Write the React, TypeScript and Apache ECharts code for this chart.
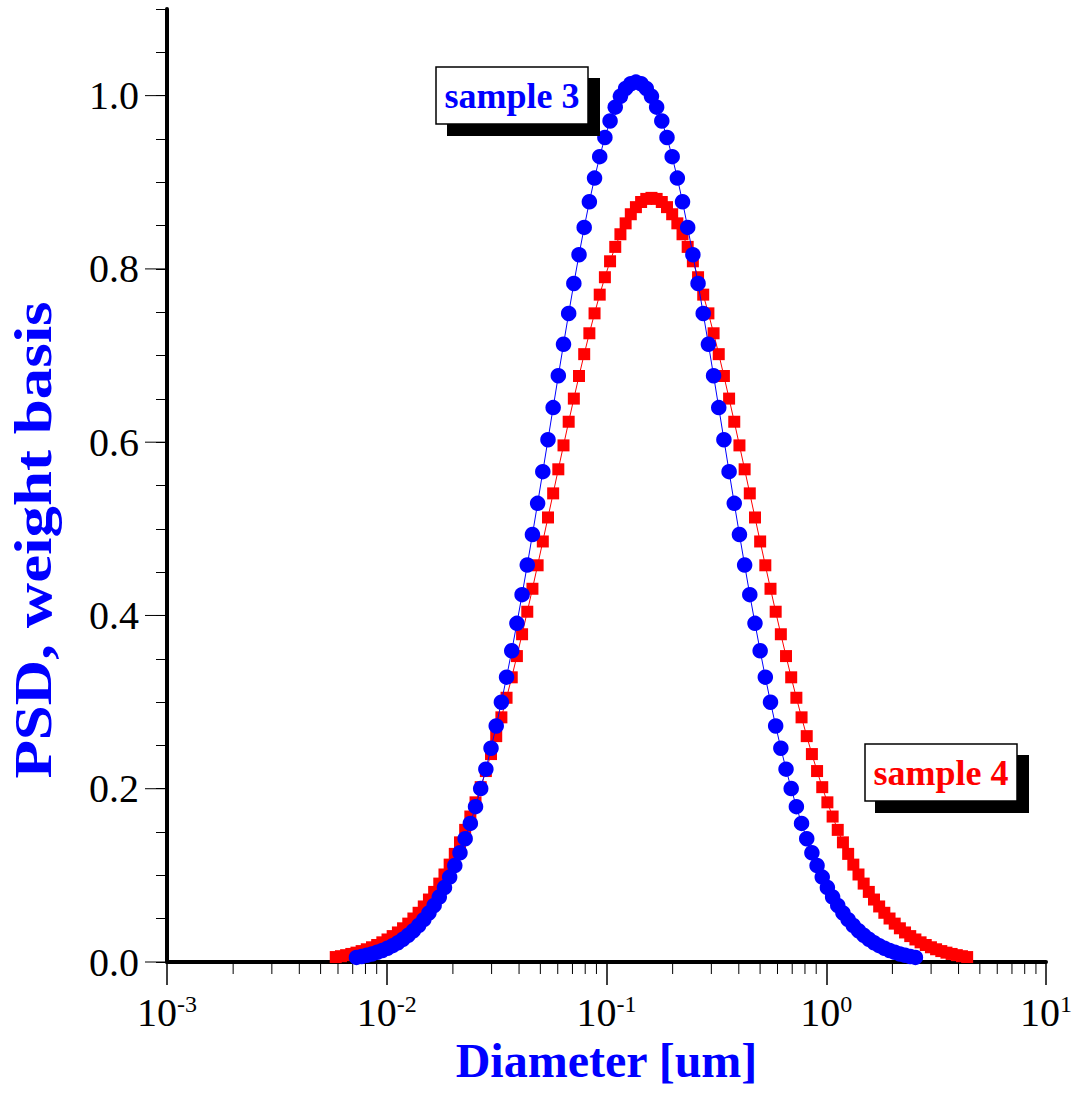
import React, { useEffect, useRef } from "react";
import * as echarts from "echarts";

// Diameter grid [um] (log-spaced)
const diam = [
  0.005861, 0.006188, 0.006533, 0.006897, 0.007281, 0.007687, 0.008115, 0.008567, 0.009044, 0.009548,
  0.01008, 0.01064, 0.01124, 0.01186, 0.01253, 0.01322, 0.01396, 0.01474, 0.01556, 0.01643,
  0.01734, 0.01831, 0.01933, 0.0204, 0.02154, 0.02274, 0.02401, 0.02535, 0.02676, 0.02825,
  0.02982, 0.03149, 0.03324, 0.03509, 0.03705, 0.03911, 0.04129, 0.0436, 0.04602, 0.04859,
  0.0513, 0.05416, 0.05718, 0.06036, 0.06373, 0.06728, 0.07102, 0.07498, 0.07916, 0.08357,
  0.08823, 0.09314, 0.09833, 0.1038, 0.1096, 0.1157, 0.1222, 0.129, 0.1361, 0.1437,
  0.1517, 0.1602, 0.1691, 0.1785, 0.1885, 0.199, 0.2101, 0.2218, 0.2341, 0.2472,
  0.261, 0.2755, 0.2909, 0.3071, 0.3242, 0.3422, 0.3613, 0.3814, 0.4027, 0.4252,
  0.4488, 0.4739, 0.5003, 0.5281, 0.5576, 0.5886, 0.6214, 0.6561, 0.6926, 0.7312,
  0.772, 0.815, 0.8604, 0.9083, 0.9589, 1.012, 1.069, 1.128, 1.191, 1.258,
  1.328, 1.402, 1.48, 1.562, 1.649, 1.741, 1.838, 1.941, 2.049, 2.163,
  2.283, 2.411, 2.545, 2.687, 2.837, 2.995, 3.161, 3.338, 3.524, 3.72,
  3.927, 4.146, 4.377,
];

// sample 3 starts at the 5th diameter of the grid
const sample3Diam = diam.slice(4, 113);
const sample3 = [
  0.0053, 0.0064, 0.0077, 0.0093, 0.0112, 0.0133, 0.0159, 0.0189, 0.0223, 0.0263,
  0.0309, 0.0361, 0.0421, 0.0489, 0.0566, 0.0653, 0.075, 0.0859, 0.098, 0.1113,
  0.1261, 0.1423, 0.16, 0.1793, 0.2002, 0.2226, 0.2468, 0.2725, 0.2999, 0.3288,
  0.3592, 0.3909, 0.424, 0.4582, 0.4934, 0.5294, 0.566, 0.6029, 0.6399, 0.6767,
  0.713, 0.7486, 0.7832, 0.8164, 0.8479, 0.8775, 0.9048, 0.9296, 0.9517, 0.9708,
  0.9867, 0.9992, 1.0083, 1.0138, 1.0156, 1.0138, 1.0083, 0.9992, 0.9867, 0.9708,
  0.9517, 0.9296, 0.9048, 0.8775, 0.8479, 0.8164, 0.7832, 0.7486, 0.713, 0.6767,
  0.6399, 0.6029, 0.566, 0.5294, 0.4934, 0.4582, 0.424, 0.3909, 0.3592, 0.3288,
  0.2999, 0.2725, 0.2468, 0.2226, 0.2002, 0.1793, 0.16, 0.1423, 0.1261, 0.1113,
  0.098, 0.0859, 0.075, 0.0653, 0.0566, 0.0489, 0.0421, 0.0361, 0.0309, 0.0263,
  0.0223, 0.0189, 0.0159, 0.0133, 0.0112, 0.0093, 0.0077, 0.0064, 0.0053,
];

const sample4 = [
  0.0057, 0.0067, 0.0079, 0.0093, 0.0108, 0.0126, 0.0147, 0.017, 0.0196, 0.0227,
  0.026, 0.0299, 0.0341, 0.0389, 0.0443, 0.0502, 0.0568, 0.0641, 0.0721, 0.0809,
  0.0905, 0.101, 0.1124, 0.1248, 0.1381, 0.1525, 0.1679, 0.1843, 0.2018, 0.2204,
  0.24, 0.2607, 0.2824, 0.305, 0.3286, 0.3531, 0.3783, 0.4043, 0.4308, 0.4579,
  0.4854, 0.5131, 0.5409, 0.5687, 0.5963, 0.6236, 0.6503, 0.6764, 0.7016, 0.7257,
  0.7487, 0.7703, 0.7904, 0.8088, 0.8254, 0.84, 0.8526, 0.8631, 0.8713, 0.8772,
  0.8808, 0.882, 0.8808, 0.8772, 0.8713, 0.8631, 0.8526, 0.84, 0.8254, 0.8088,
  0.7904, 0.7703, 0.7487, 0.7257, 0.7016, 0.6764, 0.6503, 0.6236, 0.5963, 0.5687,
  0.5409, 0.5131, 0.4854, 0.4579, 0.4308, 0.4043, 0.3783, 0.3531, 0.3286, 0.305,
  0.2824, 0.2607, 0.24, 0.2204, 0.2018, 0.1843, 0.1679, 0.1525, 0.1381, 0.1248,
  0.1124, 0.101, 0.0905, 0.0809, 0.0721, 0.0641, 0.0568, 0.0502, 0.0443, 0.0389,
  0.0341, 0.0299, 0.026, 0.0227, 0.0196, 0.017, 0.0147, 0.0126, 0.0108, 0.0093,
  0.0079, 0.0067, 0.0057,
];

const xMinorTicks = [
  0.002, 0.003, 0.004, 0.005, 0.006, 0.007, 0.008, 0.009,
  0.02, 0.03, 0.04, 0.05, 0.06, 0.07, 0.08, 0.09,
  0.2, 0.3, 0.4, 0.5, 0.6, 0.7, 0.8, 0.9,
  2, 3, 4, 5, 6, 7, 8, 9,
];
const yMajorTicks = [0, 0.2, 0.4, 0.6, 0.8, 1.0];

const SERIF = "'Liberation Serif', 'Times New Roman', serif";

export default function App() {
  const ref = useRef<HTMLDivElement>(null);
  useEffect(() => {
    if (!ref.current) return;
    const chart = echarts.init(ref.current, undefined, { renderer: "svg" });
    const option: any = {
      animation: false,
      backgroundColor: "#ffffff",
      grid: { left: 167, right: 28, top: 9, bottom: 135 },
      xAxis: {
        type: "log",
        logBase: 10,
        min: 0.001,
        max: 10,
        name: "Diameter [um]",
        nameLocation: "middle",
        nameGap: 72,
        nameTextStyle: { color: "#0000ff", fontFamily: SERIF, fontWeight: "bold", fontSize: 48 },
        axisLine: { onZero: false, lineStyle: { color: "#000", width: 4 } },
        axisTick: { length: 23, lineStyle: { color: "#000", width: 1.5 } },
        splitLine: { show: false },
        axisLabel: {
          margin: 30,
          formatter: (v: number) => {
            const e = Math.round(Math.log10(v));
            return `{b|10}{s|${e}}`;
          },
          rich: {
            b: { fontSize: 40, fontFamily: SERIF, color: "#000" },
            s: { fontSize: 24, fontFamily: SERIF, color: "#000", verticalAlign: "top" },
          },
        },
      },
      yAxis: {
        type: "value",
        min: 0,
        max: 1.1,
        interval: 0.05,
        axisLine: { onZero: false, lineStyle: { color: "#000", width: 4 } },
        axisTick: { length: 11, lineStyle: { color: "#000", width: 1 } },
        splitLine: { show: false },
        axisLabel: {
          margin: 28,
          fontSize: 40,
          fontFamily: SERIF,
          color: "#000",
          formatter: (v: number) => {
            const r = Math.round(v * 100);
            return r % 20 === 0 ? (r / 100).toFixed(1) : "";
          },
        },
      },
      series: [
        {
          type: "custom",
          silent: true,
          clip: false,
          data: xMinorTicks.map((v) => [v, 0]),
          renderItem: (params: any, api: any) => {
            const p = api.coord([api.value(0), api.value(1)]);
            return {
              type: "line",
              shape: { x1: p[0], y1: p[1], x2: p[0], y2: p[1] + 12 },
              style: { stroke: "#000", lineWidth: 1 },
            };
          },
        },
        {
          type: "custom",
          silent: true,
          clip: false,
          data: yMajorTicks.map((v) => [0.001, v]),
          renderItem: (params: any, api: any) => {
            const p = api.coord([api.value(0), api.value(1)]);
            return {
              type: "line",
              shape: { x1: p[0] - 22, y1: p[1], x2: p[0], y2: p[1] },
              style: { stroke: "#000", lineWidth: 1 },
            };
          },
        },
        {
          type: "line",
          name: "sample 4",
          data: sample4.map((y, i) => [diam[i], y]),
          symbol: "rect",
          symbolSize: 12,
          itemStyle: { color: "#ff0000" },
          lineStyle: { color: "#ff0000", width: 1 },
          z: 3,
        },
        {
          type: "line",
          name: "sample 3",
          data: sample3.map((y, i) => [sample3Diam[i], y]),
          symbol: "circle",
          symbolSize: 15.5,
          itemStyle: { color: "#0000ff" },
          lineStyle: { color: "#0000ff", width: 1 },
          z: 4,
        },
      ],
      graphic: [
        {
          type: "text", x: 33, y: 540, rotation: Math.PI / 2, scaleX: 1.21, scaleY: 1.02,
          style: { text: "PSD, weight basis", fill: "#0000ff", fontFamily: SERIF, fontWeight: "bold", fontSize: 52, align: "center", verticalAlign: "middle" },
        },
        { type: "rect", z: 100, shape: { x: 447, y: 78, width: 153, height: 58 }, style: { fill: "#000" } },
        { type: "rect", z: 101, shape: { x: 436, y: 67, width: 152, height: 57 }, style: { fill: "#fff", stroke: "#000", lineWidth: 1.5 } },
        {
          type: "text", z: 102, x: 512, y: 96,
          style: { text: "sample 3", fill: "#0000ff", fontFamily: SERIF, fontWeight: "bold", fontSize: 36, align: "center", verticalAlign: "middle" },
        },
        { type: "rect", z: 100, shape: { x: 875, y: 755, width: 154, height: 58 }, style: { fill: "#000" } },
        { type: "rect", z: 101, shape: { x: 865, y: 744, width: 152, height: 57 }, style: { fill: "#fff", stroke: "#000", lineWidth: 1.5 } },
        {
          type: "text", z: 102, x: 941, y: 773,
          style: { text: "sample 4", fill: "#ff0000", fontFamily: SERIF, fontWeight: "bold", fontSize: 36, align: "center", verticalAlign: "middle" },
        },
      ],
    };
    chart.setOption(option);
    return () => chart.dispose();
  }, []);
  return (
    <div
      ref={ref}
      style={{ position: "fixed", left: 0, top: 0, width: 1075, height: 1097, background: "#fff" }}
    />
  );
}
